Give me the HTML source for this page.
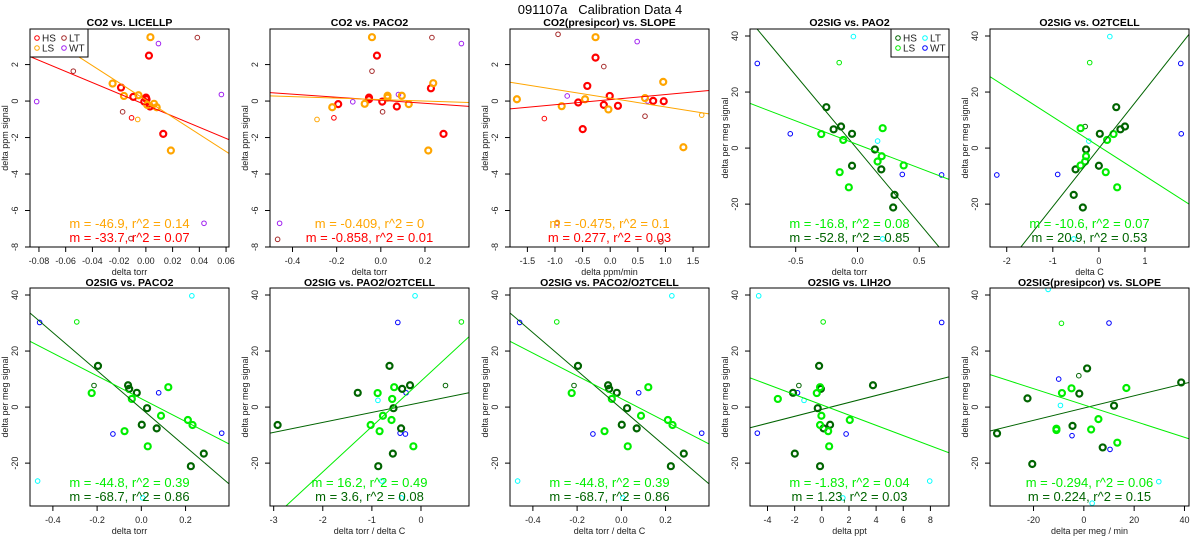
<!DOCTYPE html>
<html><head><meta charset="utf-8"><style>
html,body{margin:0;padding:0;background:#fff;}
svg{display:block;font-family:"Liberation Sans",sans-serif;}
</style></head><body>
<svg id="chart" width="1200" height="550" viewBox="0 0 1200 550" xmlns="http://www.w3.org/2000/svg">
<text x="600" y="14" text-anchor="middle" font-size="13" fill="#000" style="white-space:pre" xml:space="preserve">091107a   Calibration Data 4</text>
</svg>
<script>
// ---- Panel 1: CO2 vs LICELLP ----
const p1_hs=[[0.0023,2.49],[-0.0186,0.74],[-0.0094,0.23],[0.0001,0.19],[0.0005,0.10],[-0.0012,-0.03],[0.0031,-0.30],[0.0130,-1.80]];
const p1_ls=[[0.0034,3.50],[-0.0249,0.96],[-0.0164,0.28],[-0.0055,0.32],[0.0010,-0.21],[0.0061,-0.15],[0.0081,-0.34],[0.0187,-2.71]];
const p1_hsx=[[-0.0107,-0.92]];
const p1_lsx=[[-0.0061,-1.01]];
const p1_lt=[[-0.0543,1.64],[-0.0174,-0.59],[0.0385,3.48],[-0.0112,-7.54]];
const p1_wt=[[-0.0817,-0.03],[0.0094,3.15],[0.0565,0.36],[0.0435,-6.70]];
const p1_fit=[[-30.6,-0.212],[-47.1,0.059]];
const p1_labels=["m = -46.9, r^2 = 0.14","m = -33.7, r^2 = 0.07"];
const p1_xticks=[-0.08,-0.06,-0.04,-0.02,0,0.02,0.04,0.06];
const p1_xtickLabels=["-0.08","-0.06","-0.04","-0.02","0.00","0.02","0.04","0.06"];
// ---- Panel 2: CO2 vs PACO2 ----
const p2_hs=[[-0.0175,2.49],[-0.0535,0.19],[-0.0535,0.10],[-0.193,-0.17],[0.0065,-0.03],[0.0725,-0.30],[0.227,0.70],[0.284,-1.80]];
const p2_ls=[[-0.04,3.50],[-0.22,-0.34],[-0.073,-0.15],[0.0305,0.29],[0.0305,0.19],[0.095,0.29],[0.1265,-0.17],[0.2375,0.98],[0.215,-2.71]];
const p2_hsx=[[-0.2125,-0.92]];
const p2_lsx=[[-0.289,-1.01]];
const p2_lt=[[-0.04,1.64],[0.008,-0.59],[0.2315,3.48],[-0.4675,-7.58]];
const p2_wt=[[-0.127,-0.04],[0.08,0.36],[0.365,3.15],[-0.4585,-6.70]];
const p2_fit=[[-0.832,0.042],[-0.40,0.08]];
const p2_labels=["m = -0.409, r^2 = 0","m = -0.858, r^2 = 0.01"];
const p2_xticks=[-0.4,-0.2,0,0.2];
const p2_xtickLabels=["-0.4","-0.2","0.0","0.2"];
// ---- Panel 3: CO2(presipcor) vs SLOPE ----
const p3_hs=[[-0.266,2.38],[-0.415,0.83],[-0.58,-0.08],[-0.116,-0.21],[-0.009,0.28],[0.140,-0.26],[0.778,0.01],[0.969,-0.01],[-0.498,-1.54]];
const p3_ls=[[-1.69,0.10],[-0.879,-0.28],[-0.456,0.10],[-0.266,3.50],[-0.033,-0.46],[0.63,0.16],[0.96,1.05],[1.325,-2.53]];
const p3_hsx=[[-1.193,-0.96]];
const p3_lsx=[[1.657,-0.77],[-0.96,-6.65]];
const p3_lt=[[-0.945,3.66],[-0.116,1.89],[0.63,-0.83],[0.919,-7.71]];
const p3_wt=[[-0.779,0.28],[0.488,3.26],[0.679,0.0],[-0.96,-6.69]];
const p3_fit=[[0.28,0.078],[-0.48,0.159]];
const p3_labels=["m = -0.475, r^2 = 0.1","m = 0.277, r^2 = 0.03"];
const p3_xticks=[-1.5,-1,-0.5,0,0.5,1,1.5];
const p3_xtickLabels=["-1.5","-1.0","-0.5","0.0","0.5","1.0","1.5"];
// ---- Panel 4: O2SIG vs PAO2 ----
const p4_hs=[[-0.252,14.6],[-0.193,6.7],[-0.133,7.7],[-0.044,5.1],[-0.044,-6.3],[0.141,-0.5],[0.193,-7.6],[0.3,-16.7],[0.289,-21.2]];
const p4_ls=[[-0.293,5.0],[-0.115,2.9],[-0.144,-8.6],[-0.07,-14.0],[0.163,-4.8],[0.196,-2.9],[0.204,7.1],[0.374,-6.2]];
const p4_hsx=[];
const p4_lsx=[[-0.148,30.5]];
const p4_lt=[[-0.033,39.8],[0.163,2.5],[0.204,-32.4]];
const p4_wt=[[-0.811,30.2],[-0.544,5.1],[0.363,-9.4],[0.681,-9.6]];
const p4_fit=[[-52.8,-0.42],[-16.85,1.29]];
const p4_labels=["m = -16.8, r^2 = 0.08","m = -52.8, r^2 = 0.85"];
const p4_xticks=[-0.5,0,0.5];
const p4_xtickLabels=["-0.5","0.0","0.5"];
// ---- Panel 5: O2SIG vs O2TCELL ----
const p5_hs=[[0.377,14.6],[0.467,6.7],[0.566,7.7],[0.02,5.1],[0,-6.3],[-0.278,-0.5],[-0.506,-7.6],[-0.546,-16.7],[-0.348,-21.2]];
const p5_ls=[[0.318,5.0],[0.179,2.9],[0.149,-8.6],[0.397,-14.0],[-0.298,-4.8],[-0.278,-2.9],[-0.397,7.1],[-0.397,-6.2]];
const p5_hsx=[[-0.298,7.7]];
const p5_lsx=[[-0.199,30.5]];
const p5_lt=[[0.238,39.8],[-0.218,2.5],[-0.546,-32.4]];
const p5_wt=[[-2.215,-9.6],[-0.894,-9.4],[1.778,30.2],[1.788,5.1]];
const p5_fit=[[20.8,-0.09],[-10.53,0.62]];
const p5_labels=["m = -10.6, r^2 = 0.07","m = 20.9, r^2 = 0.53"];
const p5_xticks=[-2,-1,0,1];
const p5_xtickLabels=["-2","-1","0","1"];
// ---- Panel 6: O2SIG vs PACO2 ----
const p6_hs=[[-0.196,14.7],[-0.06,7.8],[-0.055,6.5],[-0.0205,5.1],[0.026,-0.4],[0.002,-6.3],[0.0695,-7.6],[0.2825,-16.6],[0.224,-21.1]];
const p6_ls=[[-0.2245,5.0],[-0.043,2.9],[-0.076,-8.6],[0.029,-14.0],[0.122,7.1],[0.089,-3.1],[0.2105,-4.6],[0.2315,-6.4]];
const p6_hsx=[[-0.214,7.7]];
const p6_lsx=[[-0.292,30.4]];
const p6_lt=[[0.2285,39.7],[-0.469,-26.4],[0.0065,-32.4]];
const p6_wt=[[-0.46,30.2],[-0.1285,-9.6],[0.0785,5.1],[0.3635,-9.3]];
const p6_fit=[[-67.8,-0.54],[-40.7,3.0]];
const p6_labels=["m = -44.8, r^2 = 0.39","m = -68.7, r^2 = 0.86"];
const p6_xticks=[-0.4,-0.2,0,0.2];
const p6_xtickLabels=["-0.4","-0.2","0.0","0.2"];
// ---- Panel 7: O2SIG vs PAO2/O2TCELL ----
const p7_hs=[[-2.92,-6.4],[-1.288,5.1],[-0.641,14.7],[-0.384,6.5],[-0.223,7.8],[-0.56,-0.4],[-0.405,-7.6],[-0.573,-16.6],[-0.87,-21.1]];
const p7_ls=[[-0.883,5.0],[-0.546,7.1],[-0.587,2.9],[-0.775,-3.1],[-1.025,-6.4],[-0.843,-8.6],[-0.6,-4.6],[-0.155,-14.0]];
const p7_hsx=[[0.499,7.7]];
const p7_lsx=[[0.823,30.4]];
const p7_lt=[[-0.121,39.7],[-0.877,2.4],[-0.796,-26.4],[-0.398,-32.4]];
const p7_wt=[[-0.472,30.2],[-0.303,5.1],[-0.425,-9.3],[-0.317,-9.6]];
const p7_fit=[[3.55,1.63],[16.2,9.26]];
const p7_labels=["m = 16.2, r^2 = 0.49","m = 3.6, r^2 = 0.08"];
const p7_xticks=[-3,-2,-1,0];
const p7_xtickLabels=["-3","-2","-1","0"];
// ---- Panel 8: O2SIG vs PACO2/O2TCELL ----
const p8_hs=[[-0.196,14.7],[-0.06,7.8],[-0.055,6.5],[-0.0205,5.1],[0.026,-0.4],[0.002,-6.3],[0.0695,-7.6],[0.2825,-16.6],[0.224,-21.1]];
const p8_ls=[[-0.2245,5.0],[-0.043,2.9],[-0.076,-8.6],[0.029,-14.0],[0.122,7.1],[0.089,-3.1],[0.2105,-4.6],[0.2315,-6.4]];
const p8_hsx=[[-0.214,7.7]];
const p8_lsx=[[-0.292,30.4]];
const p8_lt=[[0.2285,39.7],[-0.469,-26.4],[0.0065,-32.4]];
const p8_wt=[[-0.46,30.2],[-0.1285,-9.6],[0.0785,5.1],[0.3635,-9.3]];
const p8_fit=[[-67.8,-0.54],[-40.7,3.0]];
const p8_labels=["m = -44.8, r^2 = 0.39","m = -68.7, r^2 = 0.86"];
const p8_xticks=[-0.4,-0.2,0,0.2];
const p8_xtickLabels=["-0.4","-0.2","0.0","0.2"];
// ---- Panel 9: O2SIG vs LIH2O ----
const p9_hs=[[-2.12,5.1],[-0.2,14.7],[-0.07,6.5],[-0.3,-0.4],[0.13,-7.6],[0.61,-6.3],[3.77,7.8],[-1.99,-16.6],[-0.13,-21.1]];
const p9_ls=[[-3.24,2.9],[-0.37,5.0],[-0.13,7.1],[-0.03,-3.1],[-0.13,-6.4],[0.47,-8.6],[0.54,-14.0],[2.06,-4.6]];
const p9_hsx=[[-1.69,7.7]];
const p9_lsx=[[0.1,30.4]];
const p9_lt=[[-4.65,39.7],[-1.31,2.4],[7.95,-26.4],[1.55,-32.4]];
const p9_wt=[[-4.75,-9.3],[-1.79,5.1],[1.79,-9.6],[8.83,30.2]];
const p9_fit=[[1.24,-0.82],[-1.825,0.80]];
const p9_labels=["m = -1.83, r^2 = 0.04","m = 1.23, r^2 = 0.03"];
const p9_xticks=[-4,-2,0,2,4,6,8];
const p9_xtickLabels=["-4","-2","0","2","4","6","8"];
// ---- Panel 10: O2SIG(presipcor) vs SLOPE ----
const p10_hs=[[-34.5,-9.4],[-22.4,3.1],[1.3,13.8],[-1.8,4.8],[12.0,0.5],[-4.5,-6.7],[7.5,-14.4],[-20.5,-20.3],[38.7,8.8]];
const p10_ls=[[-8.7,5.0],[-4.9,6.7],[-10.9,-7.7],[-10.9,-8.2],[2.9,-8.0],[5.8,-4.3],[13.3,-12.7],[16.9,6.8]];
const p10_hsx=[[-2,11.2]];
const p10_lsx=[[-8.9,29.9]];
const p10_lt=[[-14.2,42.0],[-9.3,0.6],[29.8,-26.6],[3.3,-34.3]];
const p10_wt=[[-10,10.0],[10,30.0],[-4.7,-10.2],[10.4,-15.1]];
const p10_fit=[[0.219,-0.36],[-0.2895,0.80]];
const p10_labels=["m = -0.294, r^2 = 0.06","m = 0.224, r^2 = 0.15"];
const p10_xticks=[-20,0,20,40];
const p10_xtickLabels=["-20","0","20","40"];

const co2Y=[2,0,-2,-4,-6,-8];
const o2Y=[40,20,0,-20];

const NS="http://www.w3.org/2000/svg";
const svg=document.getElementById('chart');
function mk(tag,attrs,parent){const e=document.createElementNS(NS,tag);for(const k in attrs)e.setAttribute(k,attrs[k]);(parent||svg).appendChild(e);return e;}

const CO2C={hs:"#ff0000",ls:"#ffa500",lt:"#a52a2a",wt:"#a020f0"};
const O2C={hs:"#006400",ls:"#00ee00",lt:"#00ffff",wt:"#0000ff"};

const panels=[
 {id:1,col:0,row:0,title:"CO2 vs. LICELLP",xt:"delta torr",yt:"delta ppm signal",xlim:[-0.0867,0.0622],ylim:[-8,3.95],yt2:co2Y,c:CO2C,legend:"left"},
 {id:2,col:1,row:0,title:"CO2 vs. PACO2",xt:"delta torr",yt:"delta ppm signal",xlim:[-0.502,0.3995],ylim:[-8,3.95],yt2:co2Y,c:CO2C},
 {id:3,col:2,row:0,title:"CO2(presipcor) vs. SLOPE",xt:"delta ppm/min",yt:"delta ppm signal",xlim:[-1.815,1.789],ylim:[-8,3.95],yt2:co2Y,c:CO2C},
 {id:4,col:3,row:0,title:"O2SIG vs. PAO2",xt:"delta torr",yt:"delta per meg signal",xlim:[-0.870,0.741],ylim:[-35.3,42.5],yt2:o2Y,c:O2C,legend:"right"},
 {id:5,col:4,row:0,title:"O2SIG vs. O2TCELL",xt:"delta C",yt:"delta per meg signal",xlim:[-2.363,1.956],ylim:[-35.3,42.5],yt2:o2Y,c:O2C},
 {id:6,col:0,row:1,title:"O2SIG vs. PACO2",xt:"delta torr",yt:"delta per meg signal",xlim:[-0.5035,0.3965],ylim:[-35.3,42.5],yt2:o2Y,c:O2C},
 {id:7,col:1,row:1,title:"O2SIG vs. PAO2/O2TCELL",xt:"delta torr / delta C",yt:"delta per meg signal",xlim:[-3.075,0.978],ylim:[-35.3,42.5],yt2:o2Y,c:O2C},
 {id:8,col:2,row:1,title:"O2SIG vs. PACO2/O2TCELL",xt:"delta torr / delta C",yt:"delta per meg signal",xlim:[-0.5035,0.3965],ylim:[-35.3,42.5],yt2:o2Y,c:O2C},
 {id:9,col:3,row:1,title:"O2SIG vs. LIH2O",xt:"delta ppt",yt:"delta per meg signal",xlim:[-5.29,9.37],ylim:[-35.3,42.5],yt2:o2Y,c:O2C},
 {id:10,col:4,row:1,title:"O2SIG(presipcor) vs. SLOPE",xt:"delta per meg / min",yt:"delta per meg signal",xlim:[-37.3,41.8],ylim:[-35.3,42.5],yt2:o2Y,c:O2C}
];
const DATA={
 1:{hs:p1_hs,ls:p1_ls,hsx:p1_hsx,lsx:p1_lsx,lt:p1_lt,wt:p1_wt,fit:p1_fit,lab:p1_labels,xt:p1_xticks,xl:p1_xtickLabels},
 2:{hs:p2_hs,ls:p2_ls,hsx:p2_hsx,lsx:p2_lsx,lt:p2_lt,wt:p2_wt,fit:p2_fit,lab:p2_labels,xt:p2_xticks,xl:p2_xtickLabels},
 3:{hs:p3_hs,ls:p3_ls,hsx:p3_hsx,lsx:p3_lsx,lt:p3_lt,wt:p3_wt,fit:p3_fit,lab:p3_labels,xt:p3_xticks,xl:p3_xtickLabels},
 4:{hs:p4_hs,ls:p4_ls,hsx:p4_hsx,lsx:p4_lsx,lt:p4_lt,wt:p4_wt,fit:p4_fit,lab:p4_labels,xt:p4_xticks,xl:p4_xtickLabels},
 5:{hs:p5_hs,ls:p5_ls,hsx:p5_hsx,lsx:p5_lsx,lt:p5_lt,wt:p5_wt,fit:p5_fit,lab:p5_labels,xt:p5_xticks,xl:p5_xtickLabels},
 6:{hs:p6_hs,ls:p6_ls,hsx:p6_hsx,lsx:p6_lsx,lt:p6_lt,wt:p6_wt,fit:p6_fit,lab:p6_labels,xt:p6_xticks,xl:p6_xtickLabels},
 7:{hs:p7_hs,ls:p7_ls,hsx:p7_hsx,lsx:p7_lsx,lt:p7_lt,wt:p7_wt,fit:p7_fit,lab:p7_labels,xt:p7_xticks,xl:p7_xtickLabels},
 8:{hs:p8_hs,ls:p8_ls,hsx:p8_hsx,lsx:p8_lsx,lt:p8_lt,wt:p8_wt,fit:p8_fit,lab:p8_labels,xt:p8_xticks,xl:p8_xtickLabels},
 9:{hs:p9_hs,ls:p9_ls,hsx:p9_hsx,lsx:p9_lsx,lt:p9_lt,wt:p9_wt,fit:p9_fit,lab:p9_labels,xt:p9_xticks,xl:p9_xtickLabels},
 10:{hs:p10_hs,ls:p10_ls,hsx:p10_hsx,lsx:p10_lsx,lt:p10_lt,wt:p10_wt,fit:p10_fit,lab:p10_labels,xt:p10_xticks,xl:p10_xtickLabels}
};

panels.forEach(p=>{
 const d=DATA[p.id];
 const x0=p.col*240+30,x1=x0+199,y0=p.row?288:29,y1=y0+218;
 const sx=v=>x0+(v-p.xlim[0])/(p.xlim[1]-p.xlim[0])*(x1-x0);
 const sy=v=>y1-(v-p.ylim[0])/(p.ylim[1]-p.ylim[0])*(y1-y0);
 const g=mk('g',{});
 
 
 const cp=mk('clipPath',{id:'clip'+p.id},g);
 mk('rect',{x:x0,y:y0,width:x1-x0,height:y1-y0},cp);
 const t=mk('text',{x:(x0+x1)/2,y:p.row?286:26,'text-anchor':'middle','font-size':'10.5','font-weight':'bold',fill:'#000'},g);
 t.textContent=p.title;
 
 
 d.xt.forEach((v,i)=>{
  const X=sx(v);
  mk('line',{x1:X,x2:X,y1:y1,y2:y1+5,stroke:'#000','stroke-width':1},g);
  const l=mk('text',{x:X,y:y1+17,'text-anchor':'middle','font-size':'9',fill:'#222'},g);
  l.textContent=d.xl[i];
  
  
 });
 mk('line',{x1:sx(d.xt[0]),x2:sx(d.xt[d.xt.length-1]),y1:y1,y2:y1,stroke:'#000'},g);
 const xtl=mk('text',{x:(x0+x1)/2,y:y1+28,'text-anchor':'middle','font-size':'9',fill:'#222'},g);
 xtl.textContent=p.xt;
 
 
 p.yt2.forEach(v=>{
  const Y=sy(v);
  mk('line',{x1:x0-5,x2:x0,y1:Y,y2:Y,stroke:'#000'},g);
  const l=mk('text',{x:x0-12,y:Y,'text-anchor':'middle','font-size':'9',fill:'#222',transform:`rotate(-90 ${x0-12} ${Y})`},g);
  l.textContent=String(v);
  
  
 });
 const yc=(y0+y1)/2;
 const ytl=mk('text',{x:x0-22,y:yc,'text-anchor':'middle','font-size':'9',fill:'#222',transform:`rotate(-90 ${x0-22} ${yc})`},g);
 ytl.textContent=p.yt;
 
 
 const cg=mk('g',{'clip-path':`url(#clip${p.id})`},g);
 const series=[['lt',p.c.lt,1,2.3],['wt',p.c.wt,1,2.3],['hsx',p.c.hs,1,2.3],['lsx',p.c.ls,1,2.3],['hs',p.c.hs,2.2,3],['ls',p.c.ls,2.2,3]];
 series.forEach(s=>{
  d[s[0]].forEach(pt=>{
   const c=mk('circle',{cx:sx(pt[0]),cy:sy(pt[1]),r:s[3],fill:'none',stroke:s[1],'stroke-width':s[2]},cg);
   
   
  });
 });
 const fcols=[p.c.hs,p.c.ls];
 d.fit.forEach((f,i)=>{
  const ln=mk('line',{x1:sx(p.xlim[0]),y1:sy(f[0]*p.xlim[0]+f[1]),x2:sx(p.xlim[1]),y2:sy(f[0]*p.xlim[1]+f[1]),stroke:fcols[i],'stroke-width':1},cg);
  
  
 });
 const lcols=[p.c.ls,p.c.hs];
 d.lab.forEach((s,i)=>{
  const l=mk('text',{x:(x0+x1)/2,y:y0+199+i*14,'text-anchor':'middle','font-size':'13',fill:lcols[i]},g);
  l.textContent=s;
  
  
 });
 if(p.legend){
  const lx=p.legend==='left'?x0:x1-58;
  const lg=mk('g',{},g);
  
  
  mk('rect',{x:lx,y:y0,width:58,height:28,fill:'#fff',stroke:'#000'},lg);
  [['HS',p.c.hs,0,0],['LT',p.c.lt,1,0],['LS',p.c.ls,0,1],['WT',p.c.wt,1,1]].forEach(e=>{
   const cx=lx+7+e[2]*27,cy=y0+9+e[3]*10;
   mk('circle',{cx:cx,cy:cy,r:2.3,fill:'none',stroke:e[1]},lg);
   const tt=mk('text',{x:cx+5,y:cy+3.5,'font-size':'10',fill:'#222'},lg);
   tt.textContent=e[0];
   
   
  });
 }
 mk('rect',{x:x0,y:y0,width:x1-x0,height:y1-y0,fill:'none',stroke:'#000','stroke-width':1},g);
});
</script>
</body></html>
